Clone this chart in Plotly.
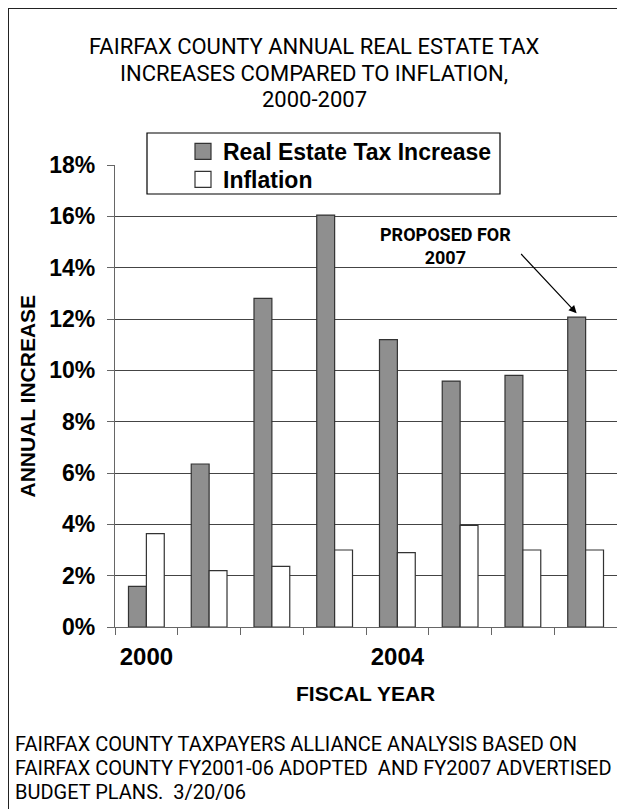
import plotly.graph_objects as go

years = ["2000", "2001", "2002", "2003", "2004", "2005", "2006", "2007"]
tax_increase = [1.58, 6.35, 12.8, 16.05, 11.2, 9.58, 9.8, 12.07]
inflation = [3.64, 2.2, 2.36, 3.0, 2.9, 3.96, 3.0, 3.0]
ytick_vals = [0, 2, 4, 6, 8, 10, 12, 14, 16, 18]
ytick_text = ["0%", "2%", "4%", "6%", "8%", "10%", "12%", "14%", "16%", "18%"]
xtick_text = ["2000", "", "", "", "2004", "", "", ""]
series_names = ["Real Estate Tax Increase", "Inflation"]
title_lines = ["FAIRFAX COUNTY ANNUAL REAL ESTATE TAX",
               "INCREASES COMPARED TO INFLATION,",
               "2000-2007"]
note_lines = ["FAIRFAX COUNTY TAXPAYERS ALLIANCE ANALYSIS BASED ON",
              "FAIRFAX COUNTY FY2001-06 ADOPTED  AND FY2007 ADVERTISED",
              "BUDGET PLANS.  3/20/06"]

GRAY = "#8f8f8f"
EDGE = "#333333"
BOLD = "Liberation Sans, Arial, sans-serif"
REG = "Roboto, Liberation Sans, sans-serif"

W, H = 625, 809
L, R, T, B = 107, 16, 157, 190
PW, PH = W - L - R, H - T - B

def px(x):
    return (x - L) / PW

def py(y):
    return (H - B - y) / PH

fig = go.Figure()
fig.add_trace(go.Bar(x=years, y=tax_increase, name=series_names[0], showlegend=False,
                     marker=dict(color=GRAY, line=dict(color=EDGE, width=1.2))))
fig.add_trace(go.Bar(x=years, y=inflation, name=series_names[1], showlegend=False,
                     marker=dict(color="white", line=dict(color=EDGE, width=1.2))))
# legend entries
fig.add_trace(go.Scatter(x=[None], y=[None], mode="markers", name=series_names[0],
                         legend="legend",
                         marker=dict(symbol="square", size=16, color=GRAY,
                                     line=dict(color=EDGE, width=1.2))))
fig.add_trace(go.Scatter(x=[None], y=[None], mode="markers", name=series_names[1],
                         legend="legend2",
                         marker=dict(symbol="square", size=16, color="white",
                                     line=dict(color=EDGE, width=1.2))))

annotations = []
for t, yy in zip(title_lines, [38, 65, 92]):
    annotations.append(dict(text=t, x=px(306), y=py(yy), xref="paper", yref="paper",
                            xanchor="center", yanchor="middle", showarrow=False,
                            font=dict(family=REG, size=22, color="black")))
for t, yy in zip(note_lines, [736, 760, 784]):
    annotations.append(dict(text=t, x=px(5), y=py(yy), xref="paper", yref="paper",
                            xanchor="left", yanchor="middle", showarrow=False,
                            font=dict(family=REG, size=20, color="black")))
annotations.append(dict(text="ANNUAL INCREASE", x=px(18.5), y=0.5, xref="paper", yref="paper",
                        textangle=-90, xanchor="center", yanchor="middle", showarrow=False,
                        font=dict(family=BOLD, size=21, color="black", weight="bold")))
annotations.append(dict(text="FISCAL YEAR", x=px(357.5), y=py(685), xref="paper", yref="paper",
                        xanchor="center", yanchor="middle", showarrow=False,
                        font=dict(family=BOLD, size=21, color="black", weight="bold")))
annotations.append(dict(text="PROPOSED FOR<br>2007", x=px(437), y=py(238), xref="paper",
                        yref="paper", xanchor="center", yanchor="middle", showarrow=False,
                        align="center",
                        font=dict(family=REG, size=18, color="black", weight="bold")))
last = len(years) - 1
annotations.append(dict(text=".", x=last, y=tax_increase[last] + 0.15, xref="x", yref="y",
                        xshift=-9, ax=-58, ay=-62, showarrow=True, arrowhead=2,
                        arrowsize=1.3, arrowwidth=1.2, arrowcolor="black",
                        font=dict(size=6, color="rgba(0,0,0,0)")))

shapes = [
    # outer frame: left and top edges (right/bottom fall outside the picture)
    dict(type="line", xref="paper", yref="paper", x0=px(0), x1=px(0), y0=py(H), y1=py(0),
         line=dict(color="#222222", width=2), layer="above"),
    dict(type="line", xref="paper", yref="paper", x0=px(0), x1=px(W), y0=py(0), y1=py(0),
         line=dict(color="#222222", width=2), layer="above"),
    dict(type="rect", xref="paper", yref="paper", x0=px(139), x1=px(492), y0=py(186), y1=py(125),
         line=dict(color="black", width=1.2), fillcolor="white", layer="above"),
]

legend_common = dict(xanchor="left", yanchor="top", bgcolor="rgba(0,0,0,0)", borderwidth=0,
                     itemsizing="trace", tracegroupgap=0,
                     font=dict(family=BOLD, size=23, color="black", weight="bold"))

fig.update_layout(
    width=W, height=H, autosize=False,
    margin=dict(l=L, r=R, t=T, b=B, pad=0),
    paper_bgcolor="white", plot_bgcolor="white",
    barmode="group", bargap=0.43, bargroupgap=0,
    showlegend=True,
    legend=dict(x=px(175), y=py(122), **legend_common),
    legend2=dict(x=px(175), y=py(150), **legend_common),
    xaxis=dict(type="category", categoryorder="array", categoryarray=years,
               tickmode="array", tickvals=years, ticktext=xtick_text, tickangle=0,
               ticks="outside", tickson="boundaries", ticklen=7, tickcolor="#666",
               showline=True, linecolor="#666", linewidth=1.2, showgrid=False,
               range=[-0.5, 7.5], fixedrange=True, ticklabelstandoff=8,
               tickfont=dict(family=BOLD, size=24, color="black", weight="bold")),
    yaxis=dict(range=[0, 18], tickmode="array", tickvals=ytick_vals, ticktext=ytick_text,
               ticks="outside", ticklen=7, tickcolor="#666",
               showline=True, linecolor="#666", linewidth=1.2,
               showgrid=True, gridcolor="#444", gridwidth=1, zeroline=False,
               ticklabelstandoff=7,
               tickfont=dict(family=BOLD, size=23, color="black", weight="bold")),
    annotations=annotations,
    shapes=shapes,
)

fig.write_html("out.html",
               post_script="document.documentElement.style.overflow='hidden';"
                           "document.body.style.overflow='hidden';")
